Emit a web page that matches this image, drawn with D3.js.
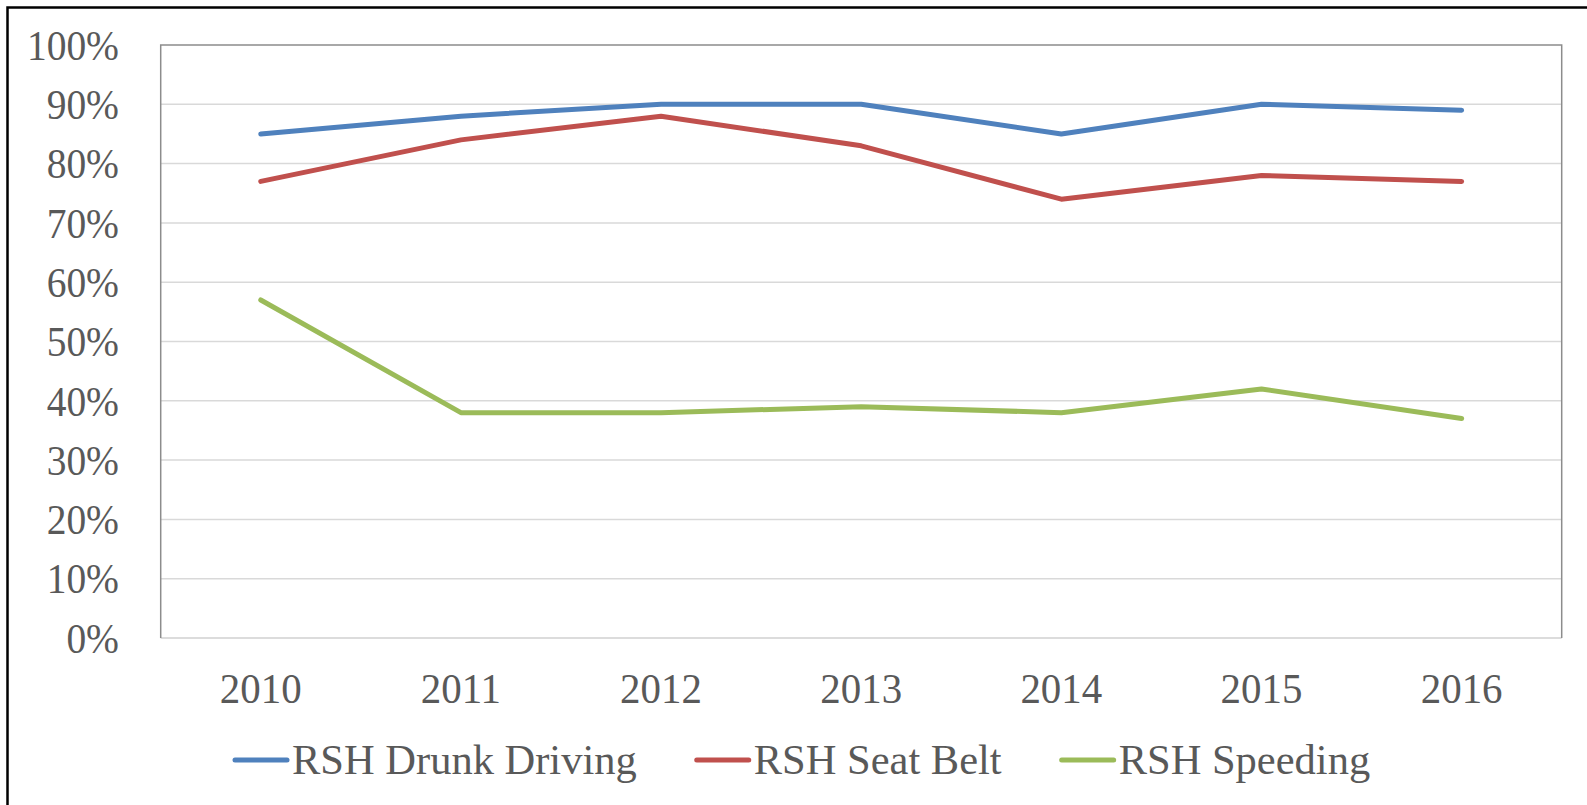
<!DOCTYPE html>
<html>
<head>
<meta charset="utf-8">
<script src="https://cdn.jsdelivr.net/npm/d3@7"></script>
<style>
html,body{margin:0;padding:0;background:#fff;overflow:hidden;}
svg{display:block;}
</style>
</head>
<body>
<script>
const years = ["2010","2011","2012","2013","2014","2015","2016"];
const drunkDriving = [85, 88, 90, 90, 85, 90, 89];
const seatBelt = [77, 84, 88, 83, 74, 78, 77];
const speeding = [57, 38, 38, 39, 38, 42, 37];
const yTicks = [0,10,20,30,40,50,60,70,80,90,100];
const seriesNames = ["RSH Drunk Driving","RSH Seat Belt","RSH Speeding"];
const seriesColors = ["#4f81bd","#c0504d","#9bbb59"];

const W = 1587, H = 805;
const plot = {left: 160.7, top: 45, right: 1561.7, bottom: 638};
const font = "Liberation Serif";

const svg = d3.select("body").append("svg").attr("width", W).attr("height", H);

// outer border
svg.append("rect").attr("x", 7.5).attr("y", 7.5).attr("width", W + 20).attr("height", H + 20)
  .attr("fill", "none").attr("stroke", "#000").attr("stroke-width", 2.5);

const x = d3.scaleBand().domain(years).range([plot.left, plot.right]).padding(0);
const y = d3.scaleLinear().domain([0, 100]).range([plot.bottom, plot.top]);

// gridlines
svg.append("g").selectAll("line").data(yTicks.filter(d => d > 0 && d < 100)).join("line")
  .attr("x1", plot.left).attr("x2", plot.right)
  .attr("y1", d => y(d)).attr("y2", d => y(d))
  .attr("stroke", "#d9d9d9").attr("stroke-width", 1.5);

// bottom axis line (light)
svg.append("line").attr("x1", plot.left).attr("x2", plot.right)
  .attr("y1", y(0)).attr("y2", y(0)).attr("stroke", "#d0d0d0").attr("stroke-width", 1.5);
// frame top/left/right
svg.append("path")
  .attr("d", `M${plot.left},${y(0)}V${y(100)}H${plot.right}V${y(0)}`)
  .attr("fill", "none").attr("stroke", "#8c8c8c").attr("stroke-width", 1.5);

// y axis labels
const yAxis = d3.axisLeft(y).tickValues(yTicks).tickFormat(d => d + "%").tickSize(0).tickPadding(0);
const gy = svg.append("g").attr("transform", `translate(119,0)`).call(yAxis);
gy.select(".domain").remove();
gy.selectAll("text").attr("font-family", font).attr("font-size", 42).attr("fill", "#595959")
  .attr("dy", "0.34em").attr("transform", "scale(0.94,1)");

// x axis labels
const xAxis = d3.axisBottom(x).tickSize(0).tickPadding(0);
const gx = svg.append("g").attr("transform", `translate(0,703)`).call(xAxis);
gx.select(".domain").remove();
gx.selectAll("text").attr("font-family", font).attr("font-size", 42).attr("fill", "#595959")
  .attr("dy", "0").attr("y", 0).attr("transform", "scale(0.975,1)");

// series lines
const seriesData = [drunkDriving, seatBelt, speeding];
const line = d3.line().x((d, i) => x(years[i]) + x.bandwidth() / 2).y(d => y(d));
seriesData.forEach((vals, k) => {
  svg.append("path").datum(vals).attr("d", line)
    .attr("fill", "none").attr("stroke", seriesColors[k]).attr("stroke-width", 5)
    .attr("stroke-linecap", "round").attr("stroke-linejoin", "round");
});

// legend
const legend = svg.append("g");
let lx = 235;
const ly = 760;
seriesNames.forEach((name, k) => {
  legend.append("line").attr("x1", lx).attr("x2", lx + 52).attr("y1", ly).attr("y2", ly)
    .attr("stroke", seriesColors[k]).attr("stroke-width", 5).attr("stroke-linecap", "round");
  const tx = lx + 57;
  const t = legend.append("text").attr("x", tx).attr("y", 774)
    .attr("font-family", font).attr("font-size", 42.5).attr("fill", "#595959").text(name);
  const w = t.node().getComputedTextLength();
  lx = tx + w + 60;
});
</script>
</body>
</html>
